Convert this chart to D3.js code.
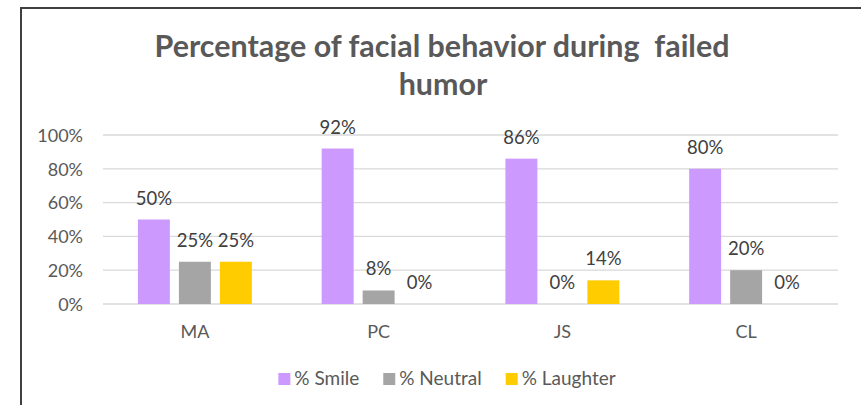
<!DOCTYPE html>
<html>
<head>
<meta charset="utf-8">
<script src="https://cdn.jsdelivr.net/npm/d3@7"></script>
<style>
  html, body { margin: 0; padding: 0; background: #fff; }
  svg { display: block; }
  text { font-family: Lato, "Open Sans", sans-serif; }
</style>
</head>
<body>
<svg id="chart" width="861" height="405"></svg>
<script>
// ---- data ----
const titleLines = ["Percentage of facial behavior during  failed", "humor"];
const categories = ["MA", "PC", "JS", "CL"];
const seriesNames = ["% Smile", "% Neutral", "% Laughter"];
const smile    = [0.50, 0.92, 0.86, 0.80];
const neutral  = [0.25, 0.08, 0.00, 0.20];
const laughter = [0.25, 0.00, 0.14, 0.00];
const yTicks = [0, 0.2, 0.4, 0.6, 0.8, 1.0];
const colors = ["#cc99ff", "#a5a5a5", "#ffcc00"];

const seriesValues = [smile, neutral, laughter];
const rows = categories.map((c, i) => ({
  cat: c,
  vals: seriesNames.map((s, j) => ({ series: s, value: seriesValues[j][i], color: colors[j] }))
}));

const svg = d3.select("#chart");

// frame
svg.append("rect")
  .attr("x", 21).attr("y", 8)
  .attr("width", 900).attr("height", 500)
  .attr("fill", "none").attr("stroke", "#404040").attr("stroke-width", 2);

// layout
const plot = { left: 103, right: 838, top: 135, bottom: 304 };

const x0 = d3.scaleBand().domain(categories).range([plot.left, plot.right]);
const bw = x0.bandwidth();
const x1 = d3.scaleBand().domain(seriesNames)
  .range([bw * 0.19, bw * 0.81]).paddingInner(0.22);
const y = d3.scaleLinear().domain([0, 1]).range([plot.bottom, plot.top]);

// gridlines
svg.append("g").selectAll("line").data(yTicks).join("line")
  .attr("x1", plot.left).attr("x2", plot.right)
  .attr("y1", d => y(d)).attr("y2", d => y(d))
  .attr("stroke", "#d9d9d9").attr("stroke-width", 1.3);

// y axis
const yAxis = d3.axisLeft(y).tickValues(yTicks).tickFormat(d3.format(".0%")).tickSize(0).tickPadding(0);
const gy = svg.append("g").attr("transform", `translate(83,0)`).call(yAxis);
gy.select(".domain").remove();
gy.selectAll("text").attr("font-size", 18).attr("fill", "#595959")
  .attr("font-family", "Lato, 'Open Sans', sans-serif").attr("dy", "0.35em");

// x axis
const xAxis = d3.axisBottom(x0).tickSize(0).tickPadding(0);
const gx = svg.append("g").attr("transform", `translate(0,${plot.bottom})`).call(xAxis);
gx.select(".domain").remove();
gx.selectAll("text").attr("font-size", 18).attr("fill", "#595959")
  .attr("font-family", "Lato, 'Open Sans', sans-serif")
  .attr("dy", null).attr("y", 34);

// bars
const groups = svg.append("g").selectAll("g").data(rows).join("g")
  .attr("transform", d => `translate(${x0(d.cat)},0)`);

groups.selectAll("rect").data(d => d.vals).join("rect")
  .attr("x", d => x1(d.series))
  .attr("width", x1.bandwidth())
  .attr("y", d => y(d.value))
  .attr("height", d => y(0) - y(d.value))
  .attr("fill", d => d.color);

groups.selectAll("text").data(d => d.vals).join("text")
  .attr("x", d => x1(d.series) + x1.bandwidth() / 2)
  .attr("y", d => y(d.value) - 15)
  .attr("text-anchor", "middle")
  .attr("font-size", 18.5)
  .attr("fill", "#404040")
  .text(d => d3.format(".0%")(d.value));

// title
const titleG = svg.append("g");
const t1 = titleG.append("text")
  .attr("x", 442).attr("y", 57)
  .attr("text-anchor", "middle")
  .attr("font-weight", "bold")
  .attr("fill", "#595959")
  .style("white-space", "pre")
  .attr("font-size", 26)
  .text(titleLines[0]);
const w = t1.node().getComputedTextLength();
const fs = 26 * 575 / w;
t1.attr("font-size", fs);
titleG.append("text")
  .attr("x", 443).attr("y", 95)
  .attr("text-anchor", "middle")
  .attr("font-weight", "bold")
  .attr("fill", "#595959")
  .attr("font-size", fs)
  .text(titleLines[1]);

// legend
const legend = svg.append("g");
let lx = 0;
seriesNames.forEach((s, i) => {
  const g = legend.append("g").attr("transform", `translate(${lx},0)`);
  g.append("rect").attr("x", 0).attr("y", 373).attr("width", 12).attr("height", 12).attr("fill", colors[i]);
  const t = g.append("text").attr("x", 16).attr("y", 385)
    .attr("font-size", 19).attr("fill", "#595959").text(s);
  lx += 16 + t.node().getComputedTextLength() + 24;
});
const legendW = lx - 24;
legend.attr("transform", `translate(${447 - legendW / 2},0)`);
</script>
</body>
</html>
